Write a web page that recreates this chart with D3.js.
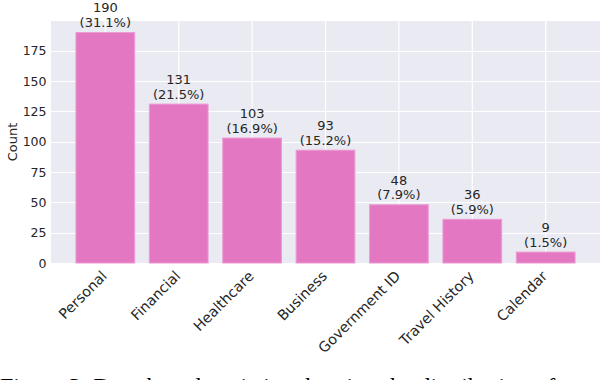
<!DOCTYPE html>
<html>
<head>
<meta charset="utf-8">
<script src="https://cdn.jsdelivr.net/npm/d3@7/dist/d3.min.js"></script>
<style>
  html, body { margin: 0; padding: 0; background: #ffffff; }
  svg { display: block; }
</style>
</head>
<body>
<svg id="chart" width="602" height="380"></svg>
<script>
const categories = ["Personal", "Financial", "Healthcare", "Business", "Government ID", "Travel History", "Calendar"];
const counts = [190, 131, 103, 93, 48, 36, 9];
const percentLabels = ["31.1%", "21.5%", "16.9%", "15.2%", "7.9%", "5.9%", "1.5%"];
const yTicks = [0, 25, 50, 75, 100, 125, 150, 175];
const yLabel = "Count";
const caption = "Figure 3: Data-based statistics showing the distribution of categories.";

const svg = d3.select("#chart");
const plot = { left: 51, right: 600, top: 21, bottom: 263 };
const textColor = "#262626";
const font = "'DejaVu Sans', sans-serif";

const x = d3.scaleLinear().domain([-0.74, categories.length - 1 + 0.74]).range([plot.left, plot.right]);
const y = d3.scaleLinear().domain([0, d3.max(counts) * 1.05]).range([plot.bottom, plot.top]);
const barW = x(0.4) - x(-0.4);

// background
svg.append("rect")
  .attr("x", plot.left).attr("y", plot.top)
  .attr("width", plot.right - plot.left).attr("height", plot.bottom - plot.top + 1)
  .attr("fill", "#EAEAF2");

// grid
const g = svg.append("g");
g.selectAll("line.hg").data(yTicks).join("line")
  .attr("x1", plot.left).attr("x2", plot.right)
  .attr("y1", d => Math.round(y(d)) + 0.5).attr("y2", d => Math.round(y(d)) + 0.5)
  .attr("stroke", "#ffffff").attr("stroke-width", 1.2);
g.selectAll("line.vg").data(categories).join("line")
  .attr("x1", (d, i) => x(i)).attr("x2", (d, i) => x(i))
  .attr("y1", plot.top).attr("y2", plot.bottom + 1)
  .attr("stroke", "#ffffff").attr("stroke-width", 1.2);

// bars
svg.append("g").selectAll("rect").data(counts).join("rect")
  .attr("x", (d, i) => x(i) - barW / 2)
  .attr("y", d => y(d))
  .attr("width", barW)
  .attr("height", d => y(0) - y(d))
  .attr("fill", "#E377C2")
  .attr("stroke", "#EC9BD3")
  .attr("stroke-width", 1);

// value labels
const lab = svg.append("g").attr("font-family", font).attr("font-size", 13).attr("fill", textColor).attr("text-anchor", "middle");
counts.forEach((d, i) => {
  const base = y(d) - 5.5;
  lab.append("text").attr("x", x(i)).attr("y", base - 14.7).text(String(d));
  lab.append("text").attr("x", x(i)).attr("y", base).text("(" + percentLabels[i] + ")");
});

// y tick labels
svg.append("g").selectAll("text").data(yTicks).join("text")
  .attr("x", 46.5).attr("y", d => y(d)).attr("dy", "0.36em")
  .attr("text-anchor", "end")
  .attr("font-family", font).attr("font-size", 12.5).attr("fill", textColor)
  .text(d => d);

// x tick labels
svg.append("g").selectAll("text").data(categories).join("text")
  .attr("transform", (d, i) => `translate(${x(i) + 2.5},277) rotate(-45)`)
  .attr("text-anchor", "end")
  .attr("font-family", font).attr("font-size", 14.3).attr("fill", textColor)
  .text(d => d);

// y label
svg.append("text")
  .attr("transform", `translate(16.5,${(plot.top + plot.bottom) / 2}) rotate(-90)`)
  .attr("text-anchor", "middle")
  .attr("font-family", font).attr("font-size", 13).attr("fill", textColor)
  .text(yLabel);

// caption (cut off at bottom)
svg.append("text")
  .attr("x", 0).attr("y", 394)
  .attr("font-family", "'Liberation Serif', 'DejaVu Serif', serif")
  .attr("font-size", 24).attr("fill", "#000")
  .text(caption);
</script>
</body>
</html>
